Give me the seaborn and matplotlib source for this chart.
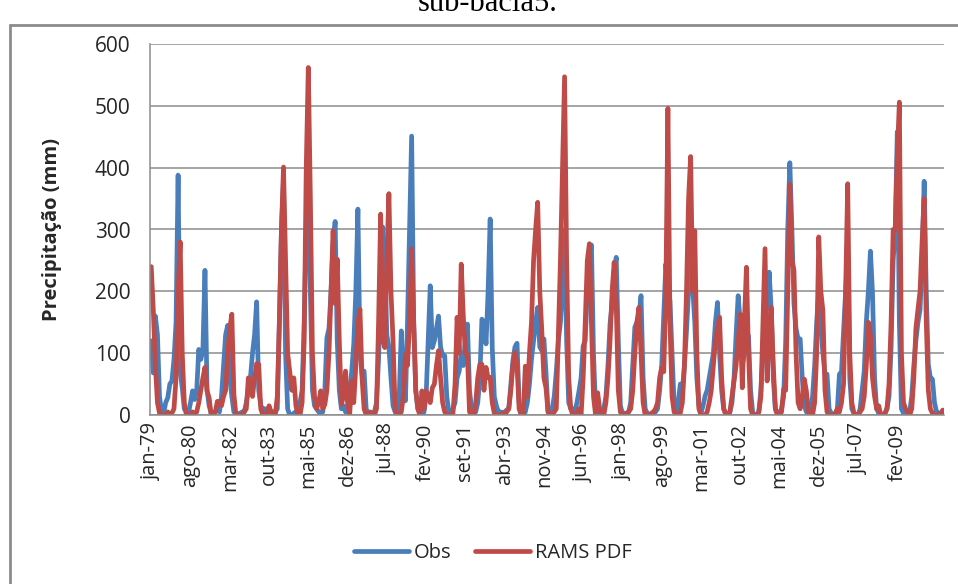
import matplotlib
matplotlib.use("Agg")
import matplotlib.pyplot as plt
import seaborn as sns
import pandas as pd
import numpy as np

# Monthly precipitation (mm), jan-1979 .. dez-2010, one row per year
obs = [
    120, 68, 160, 130, 30, 5, 3, 20, 28, 50, 55, 90,
    150, 388, 70, 44, 10, 5, 3, 20, 39, 25, 40, 106,
    90, 105, 234, 40, 15, 3, 2, 5, 10, 5, 30, 80,
    130, 145, 60, 30, 5, 2, 2, 3, 5, 5, 20, 40,
    60, 100, 130, 183, 40, 15, 10, 10, 5, 8, 5, 5,
    5, 10, 150, 300, 380, 100, 10, 0, 0, 3, 5, 10,
    20, 40, 150, 300, 430, 200, 40, 15, 10, 5, 3, 5,
    40, 125, 140, 200, 280, 313, 120, 40, 10, 15, 5, 10,
    40, 70, 115, 200, 333, 100, 65, 71, 10, 2, 0, 0,
    5, 20, 90, 200, 304, 250, 130, 109, 60, 15, 5, 0,
    30, 136, 60, 23, 150, 300, 451, 150, 40, 10, 3, 0,
    5, 30, 120, 209, 109, 120, 140, 160, 110, 96, 96, 30,
    5, 3, 10, 20, 60, 71, 100, 80, 120, 147, 40, 10,
    3, 5, 20, 60, 155, 150, 115, 200, 317, 110, 30, 15,
    5, 5, 3, 5, 8, 10, 50, 88, 110, 116, 20, 3,
    0, 5, 20, 50, 90, 120, 150, 174, 110, 104, 123, 70,
    5, 3, 10, 30, 70, 120, 150, 200, 300, 120, 20, 10,
    10, 5, 20, 39, 60, 112, 120, 200, 250, 275, 100, 10,
    3, 0, 5, 10, 30, 80, 147, 180, 230, 255, 120, 15,
    3, 3, 0, 5, 20, 80, 142, 150, 160, 193, 60, 10,
    3, 0, 0, 2, 5, 10, 40, 80, 160, 244, 200, 185,
    100, 20, 5, 20, 50, 40, 80, 136, 200, 280, 206, 150,
    60, 15, 3, 15, 31, 40, 60, 80, 100, 150, 182, 100,
    40, 10, 3, 0, 5, 20, 60, 130, 193, 150, 80, 100,
    128, 128, 40, 5, 0, 0, 5, 40, 100, 150, 180, 231,
    170, 60, 10, 3, 3, 10, 30, 120, 300, 408, 300, 180,
    140, 123, 123, 60, 15, 5, 3, 10, 30, 80, 150, 200,
    140, 100, 66, 66, 10, 3, 0, 0, 10, 66, 70, 136,
    200, 260, 60, 10, 3, 0, 0, 10, 40, 71, 150, 200,
    265, 198, 60, 10, 3, 0, 0, 2, 10, 30, 109, 250,
    300, 458, 150, 10, 3, 0, 0, 5, 30, 80, 120, 150,
    170, 250, 378, 200, 82, 60, 58, 20, 5, 3, 2, 3,
]

rams_pdf = [
    240, 170, 80, 20, 3, 0, 0, 0, 5, 0, 3, 10,
    60, 200, 280, 100, 20, 0, 0, 0, 5, 0, 5, 20,
    40, 60, 77, 39, 28, 0, 0, 5, 22, 22, 15, 30,
    40, 100, 140, 163, 33, 0, 0, 0, 0, 5, 10, 60,
    58, 30, 60, 83, 82, 10, 0, 0, 3, 15, 5, 0,
    0, 30, 150, 300, 401, 250, 100, 71, 40, 60, 15, 0,
    0, 20, 120, 400, 562, 350, 100, 30, 10, 20, 39, 10,
    17, 40, 100, 200, 298, 180, 252, 120, 17, 30, 71, 20,
    0, 55, 20, 80, 150, 171, 60, 10, 0, 0, 5, 3,
    0, 10, 150, 325, 120, 109, 250, 358, 200, 120, 10, 0,
    0, 5, 30, 98, 80, 150, 269, 150, 39, 10, 0, 39,
    10, 39, 30, 20, 44, 50, 80, 104, 60, 20, 5, 0,
    0, 0, 3, 50, 158, 100, 244, 160, 100, 98, 5, 0,
    0, 20, 60, 82, 82, 40, 77, 60, 61, 20, 3, 0,
    0, 0, 3, 0, 5, 10, 40, 80, 101, 80, 10, 0,
    0, 79, 30, 100, 150, 250, 300, 344, 200, 136, 60, 44,
    5, 0, 0, 5, 10, 131, 250, 400, 547, 250, 60, 10,
    0, 0, 5, 10, 0, 60, 150, 250, 277, 150, 30, 0,
    36, 10, 0, 0, 20, 60, 120, 200, 247, 180, 40, 5,
    0, 0, 3, 5, 10, 40, 100, 150, 174, 100, 20, 0,
    0, 0, 3, 5, 10, 20, 60, 77, 70, 200, 496, 150,
    30, 5, 0, 0, 3, 20, 80, 200, 350, 418, 200, 298,
    100, 10, 0, 0, 0, 5, 20, 40, 80, 120, 140, 158,
    60, 10, 0, 0, 5, 30, 55, 80, 120, 163, 44, 150,
    239, 100, 10, 0, 0, 0, 5, 30, 150, 269, 55, 120,
    174, 80, 10, 0, 0, 5, 42, 40, 200, 373, 250, 234,
    100, 20, 10, 30, 58, 39, 5, 0, 0, 20, 100, 288,
    200, 169, 40, 5, 0, 0, 0, 3, 10, 5, 20, 50,
    200, 374, 100, 20, 3, 0, 0, 5, 10, 30, 80, 150,
    130, 60, 30, 10, 15, 0, 0, 3, 10, 50, 150, 300,
    300, 420, 506, 100, 20, 10, 5, 0, 10, 60, 140, 171,
    200, 280, 350, 152, 40, 10, 3, 0, 0, 0, 3, 8,
]

tick_labels = ["jan-79", "ago-80", "mar-82", "out-83", "mai-85", "dez-86",
               "jul-88", "fev-90", "set-91", "abr-93", "nov-94", "jun-96",
               "jan-98", "ago-99", "mar-01", "out-02", "mai-04", "dez-05",
               "jul-07", "fev-09"]
tick_step = 19

df = pd.DataFrame({"mes": np.arange(len(obs)), "Obs": obs, "RAMS PDF": rams_pdf})

sns.set_theme(style="white")
plt.rcParams["font.family"] = ["Open Sans", "DejaVu Sans"]

W, H = 958, 584
fig = plt.figure(figsize=(W / 100, H / 100), dpi=100)
fig.patch.set_facecolor("white")

# plot area in pixel coordinates
left, right, top, bottom = 150, 944, 44, 415
ax = fig.add_axes([left / W, 1 - bottom / H, (right - left) / W, (bottom - top) / H])

blue = "#4A7EBB"
red = "#BE4B48"
sns.lineplot(data=df, x="mes", y="Obs", ax=ax, color=blue, lw=3.4,
             label="Obs", legend=False, solid_joinstyle="round")
sns.lineplot(data=df, x="mes", y="RAMS PDF", ax=ax, color=red, lw=3.4,
             label="RAMS PDF", legend=False, solid_joinstyle="round")

txt = "#262626"
ax.set_xlim(-0.6, len(obs) - 0.4)
ax.set_ylim(0, 600)
ax.set_yticks(range(0, 601, 100))
ax.set_xticks(np.arange(len(tick_labels)) * tick_step)
ax.set_xticklabels(tick_labels, rotation=90, fontsize=14.5, color=txt)
ax.tick_params(axis="y", labelsize=15, pad=14, length=0, colors=txt)
ax.tick_params(axis="x", pad=6, length=0)
ax.grid(axis="y", color="#8c8c8c", lw=1.1)
ax.set_axisbelow(True)
for s in ("top", "right"):
    ax.spines[s].set_visible(False)
for s in ("left", "bottom"):
    ax.spines[s].set_color("#8c8c8c")
    ax.spines[s].set_linewidth(1.1)
ax.set_xlabel("")
ax.set_ylabel("Precipitação (mm)", fontsize=14.5, fontweight="bold", color=txt)
ax.yaxis.set_label_coords((62 - left) / (right - left), 0.5)

handles, labels = ax.get_legend_handles_labels()
fig.legend(handles, labels, loc="center", bbox_to_anchor=(493 / W, 1 - 553 / H),
           ncol=2, frameon=False, fontsize=14.5, handlelength=2.7,
           columnspacing=1.2, handletextpad=0.25, labelcolor=txt)

# chart-area frame (top and left edges)
fig.add_artist(plt.Line2D([10 / W, 1.0], [1 - 25 / H, 1 - 25 / H],
                          transform=fig.transFigure, color="#8c8c8c", lw=2))
fig.add_artist(plt.Line2D([10 / W, 10 / W], [0, 1 - 25 / H],
                          transform=fig.transFigure, color="#8c8c8c", lw=2))

# caption line above the chart, clipped by the page edge
fig.text(488 / W, 1 - 11 / H, "sub-bacia5.", ha="center", va="baseline",
         fontsize=22, family=["Liberation Serif", "DejaVu Serif"], color="black")

fig.savefig("out.png", dpi=100)
